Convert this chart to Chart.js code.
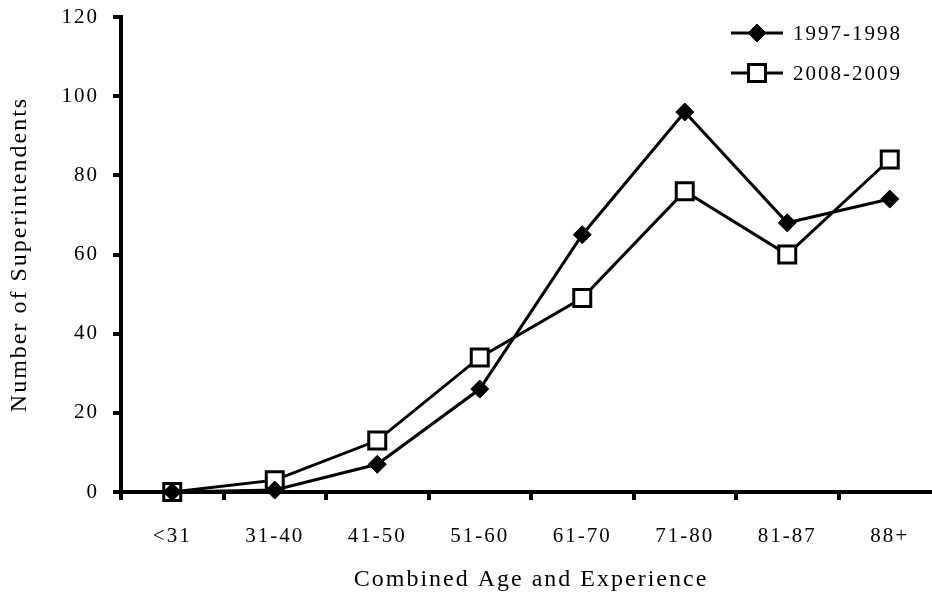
<!DOCTYPE html>
<html>
<head>
<meta charset="utf-8">
<script src="https://cdn.jsdelivr.net/npm/chart.js@4/dist/chart.umd.min.js"></script>
<style>
  html, body { margin: 0; padding: 0; background: #fff; overflow: hidden; }
  canvas { display: block; }
</style>
</head>
<body>
<canvas id="chart" width="941" height="599"></canvas>
<script>
"use strict";

const categories = ["<31", "31-40", "41-50", "51-60", "61-70", "71-80", "81-87", "88+"];
const series1997 = [0, 0.5, 7, 26, 65, 96, 68, 74];
const series2008 = [0, 3, 13, 34, 49, 76, 60, 84];
const yTicks = [0, 20, 40, 60, 80, 100, 120];

const FONT = "'Liberation Serif', 'Times New Roman', serif";
const SPACING = "2px"; // original text is set quite wide

// wide letter spacing for every text the chart measures or draws
const wideText = {
    id: "wideText",
    beforeLayout(chart) { chart.ctx.letterSpacing = SPACING; },
    beforeDraw(chart) { chart.ctx.letterSpacing = SPACING; }
};

// legend drawn inside the plot, line + marker like the original
const lineLegend = {
    id: "lineLegend",
    afterDraw(chart) {
        const ctx = chart.ctx;
        const area = chart.chartArea;
        chart.data.datasets.forEach((ds, i) => {
            const y = area.top + 16 + 40 * i;
            const x0 = area.right - 210, x1 = area.right - 158;
            ctx.save();
            ctx.strokeStyle = "#000";
            ctx.lineWidth = 3;
            ctx.beginPath();
            ctx.moveTo(x0, y);
            ctx.lineTo(x1, y);
            ctx.stroke();
            ctx.fillStyle = ds.pointBackgroundColor;
            ctx.strokeStyle = ds.pointBorderColor;
            ctx.lineWidth = ds.pointBorderWidth;
            Chart.helpers.drawPoint(ctx, {
                pointStyle: ds.pointStyle,
                radius: ds.pointRadius,
                rotation: 0,
                borderWidth: ds.pointBorderWidth
            }, (x0 + x1) / 2, y);
            ctx.fillStyle = "#000";
            ctx.font = "21px " + FONT;
            ctx.letterSpacing = SPACING;
            ctx.textBaseline = "middle";
            ctx.textAlign = "left";
            ctx.fillText(ds.label, x1 + 10, y + 1);
            ctx.restore();
        });
    }
};

new Chart(document.getElementById("chart"), {
    type: "line",
    data: {
        labels: categories,
        datasets: [
            {
                label: "1997-1998",
                data: series1997,
                borderColor: "#000",
                borderWidth: 3,
                pointStyle: "rectRot",
                pointRadius: 9,
                pointBackgroundColor: "#000",
                pointBorderColor: "#000",
                pointBorderWidth: 1,
                tension: 0,
                clip: false
            },
            {
                label: "2008-2009",
                data: series2008,
                borderColor: "#000",
                borderWidth: 3,
                pointStyle: "rect",
                pointRadius: 12,
                pointBackgroundColor: "#fff",
                pointBorderColor: "#000",
                pointBorderWidth: 3,
                tension: 0,
                clip: false
            }
        ]
    },
    options: {
        responsive: false,
        animation: false,
        layout: { autoPadding: false, padding: { top: 17, right: 0, left: 0, bottom: 0 } },
        plugins: {
            legend: { display: false },
            tooltip: { enabled: false }
        },
        scales: {
            x: {
                offset: true,
                afterFit: (scale) => {
                    scale.height = 107;
                    scale.paddingLeft = 0;
                    scale.paddingRight = 0;
                },
                border: { display: true, color: "#000", width: 4 },
                grid: {
                    display: true,
                    offset: true,
                    drawOnChartArea: false,
                    drawTicks: true,
                    tickLength: 8,
                    color: "#000",
                    lineWidth: 4
                },
                ticks: {
                    color: "#000",
                    padding: 24,
                    maxRotation: 0,
                    font: { family: FONT, size: 21 }
                },
                title: {
                    display: true,
                    text: "Combined Age and Experience",
                    color: "#000",
                    padding: { top: 0, bottom: 5 },
                    font: { family: FONT, size: 24 }
                }
            },
            y: {
                min: 0,
                max: 120,
                afterFit: (scale) => {
                    scale.width = 121;
                    scale.paddingTop = 0;
                    scale.paddingBottom = 0;
                },
                afterBuildTicks: (scale) => { scale.ticks = yTicks.map(v => ({ value: v })); },
                border: { display: true, color: "#000", width: 4 },
                grid: {
                    display: true,
                    drawOnChartArea: false,
                    drawTicks: true,
                    tickLength: 8,
                    color: "#000",
                    lineWidth: 4
                },
                ticks: {
                    color: "#000",
                    padding: 14,
                    font: { family: FONT, size: 21 }
                },
                title: {
                    display: true,
                    text: "Number of Superintendents",
                    color: "#000",
                    padding: { top: 5, bottom: 0 },
                    font: { family: FONT, size: 24 }
                }
            }
        }
    },
    plugins: [wideText, lineLegend]
});
</script>
</body>
</html>
